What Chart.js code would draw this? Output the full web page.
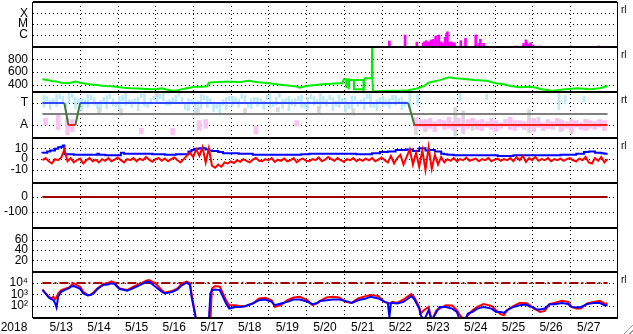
<!DOCTYPE html>
<html>
<head>
<meta charset="utf-8">
<script src="https://cdn.jsdelivr.net/npm/chart.js@4.4.1/dist/chart.umd.min.js"></script>
<style>
  html, body { margin: 0; padding: 0; background: #fff; }
  #wrap { position: relative; width: 633px; height: 334px; }
  #grip {
    position: absolute; right: 0; bottom: 0; width: 12px; height: 12px;
    background: repeating-linear-gradient(135deg, rgba(255,255,255,0) 0 2px, #9a9a9a 2px 3px, rgba(255,255,255,0) 3px 4px);
    clip-path: polygon(100% 0, 100% 100%, 0 100%);
  }
</style>
</head>
<body>
<div id="wrap"><canvas id="myChart" width="633" height="334"></canvas><div id="grip"></div></div>
<script>
// time axis: hours after 2018-05-13 00:00
var year = '2018';
var dayLabels = ['5/13', '5/14', '5/15', '5/16', '5/17', '5/18', '5/19', '5/20', '5/21', '5/22', '5/23', '5/24', '5/25', '5/26', '5/27'];

// panel 1 - x-ray class (X / M / C)
var xrayTicks = [1e-4, 1e-5, 1e-6];
var xrayTickLabels = ['X', 'M', 'C'];
var xrayHours = [221, 231, 238.5, 242.5, 243.5, 244.5, 245.5, 246.5, 247.5, 249, 250.5, 251, 252.5, 254, 255, 256.5, 257.5, 258, 259, 260.5, 261.5, 262.5, 266.5, 269.5, 276, 278, 279, 281, 302, 306.5, 308, 308.5, 310, 311, 312.5, 316.5, 336.5, 354.5];
var xrayFlux = [2.8e-7, 1e-6, 2.25e-7, 1.95e-7, 2.4e-7, 3e-7, 1.95e-7, 2.4e-7, 3.5e-7, 4e-7, 8.1e-7, 2.4e-7, 1e-6, 2.4e-7, 1.7e-7, 6.1e-7, 1.45e-6, 2e-6, 1.95e-7, 2.4e-7, 1.7e-7, 1.95e-7, 3e-7, 5e-7, 1e-6, 1.7e-7, 4e-7, 1.7e-7, 9.8e-8, 1.7e-7, 3.5e-7, 1.95e-7, 1.5e-7, 1.95e-7, 1.2e-7, 9.8e-8, 9.8e-8, 9.8e-8];

// panel 2 - solar wind speed
var speedTicks = [800, 600, 400];
var speedHours = [0, 3, 6, 9, 12, 17, 21, 24, 28, 31, 35, 39, 44, 47, 52, 56, 61, 66, 70, 73, 76, 79, 83, 86, 89, 92, 97, 102, 105, 106, 109, 113, 117, 121, 124, 127, 130, 132, 135, 138, 143, 148, 153, 158, 162, 164, 167, 169, 174, 179, 184, 189, 191, 192, 193.5, 193.6, 193.8, 195, 195.2, 195.4, 198.5, 198.5, 204.5, 204.5, 198.5, 204.5, 204.6, 205.2, 209, 209.8, 210, 210.2, 210.6, 217, 223, 229, 233, 238, 243, 246, 253, 259, 263, 269, 275, 283, 289, 294, 298, 304, 312, 318, 325, 333, 341, 349, 355, 360];
var speedValues = [488, 475, 461, 455, 435, 425, 452, 435, 420, 405, 399, 383, 378, 372, 355, 348, 345, 337, 332, 335, 348, 330, 310, 318, 335, 348, 372, 372, 380, 435, 440, 446, 450, 448, 446, 446, 460, 466, 450, 441, 430, 414, 400, 388, 375, 357, 375, 388, 398, 410, 418, 425, 425, 488, 488, 348, 488, 488, 332, 477, 477, 332, 332, 477, 477, 477, 295, 503, 503, 503, 975, 503, 298, 305, 310, 312, 318, 340, 380, 435, 475, 519, 503, 492, 477, 466, 425, 410, 383, 363, 372, 332, 310, 332, 348, 332, 348, 383];

// panel 3 - sector (T = toward, A = away) and hourly angle scatter
var sectorTicks = [1, -1];
var sectorTickLabels = ['T', 'A'];
var sectorHours = [0, 14, 16.5, 21, 24, 233, 237, 360];
var sectorValues = [1, 1, -1, -1, 1, 1, -1, -1];
var cyanHours = [1, 5, 9, 13, 17, 21, 25, 29, 33, 37, 41, 45, 49, 53, 57, 61, 65, 69, 73, 77, 81, 85, 89, 93, 97, 101, 105, 109, 113, 117, 121, 125, 129, 133, 137, 141, 145, 149, 153, 157, 161, 165, 169, 173, 177, 181, 185, 189, 193, 197, 201, 205, 209, 213, 217, 221, 225, 229, 234, 239, 266, 283, 329, 333, 345];
var cyanLow = [0.6, 0.4, 0.7, 0.9, 1.0, 0.5, 0.3, 0.6, 0.8, 0.2, 0.5, 0.7, 0.4, 0.8, 0.6, 0.3, 0.7, 0.9, 1.0, 1.2, 0.8, 1.1, 0.9, 0.3, 0.1, 0.5, 0.6, 0.2, 0.0, 0.4, 0.7, 0.6, 0.9, 0.5, 0.7, 0.4, 0.6, 0.8, 0.5, 0.3, 0.7, 0.6, 0.4, 0.8, 0.5, 0.7, 0.3, 0.6, 0.2, 0.5, 0.7, 0.4, 0.6, 0.3, 0.7, 0.5, 0.8, 0.4, 0.5, 0.8, 1.2, 1.3, 0.4, 0.9, 1.1];
var cyanHigh = [1.7, 1.3, 1.8, 1.6, 1.9, 1.5, 1.4, 1.8, 1.5, 1.2, 1.7, 1.4, 1.6, 1.9, 1.3, 1.5, 1.8, 1.4, 1.8, 1.9, 1.3, 1.7, 1.5, 1.4, 1.2, 1.8, 1.6, 1.1, 1.0, 1.5, 1.6, 1.3, 1.7, 1.4, 1.5, 1.2, 1.8, 1.5, 1.3, 1.6, 1.4, 1.7, 1.5, 1.6, 1.9, 1.3, 1.5, 1.7, 1.4, 1.6, 1.2, 1.5, 1.8, 1.3, 1.6, 1.4, 1.7, 1.5, 1.9, 1.8, 1.9, 1.8, 1.9, 1.7, 1.6];
var cyan2Hours = [3, 7, 11, 15, 19, 23, 27, 31, 35, 39, 43, 47, 51, 55, 59, 63, 67, 71, 75, 79, 83, 87, 91, 95, 99, 103, 107, 111, 115, 119, 123, 127, 131, 135, 139, 143, 147, 151, 155, 159, 163, 167, 171, 175, 179, 183, 187, 191, 195, 199, 203, 207, 211, 215, 219, 223, 227, 231];
var cyan2Low = [1.2, 0.9, 1.4, 0.6, 1.5, 1.0, 0.8, 1.3, 0.5, 1.1, 1.4, 0.7, 1.2, 1.0, 0.9, 1.5, 0.6, 1.3, 1.4, 0.8, 1.1, 1.6, 0.4, 0.9, 0.7, 1.3, 1.0, 0.5, 0.8, 1.2, 1.0, 1.4, 0.6, 1.1, 0.9, 1.3, 0.7, 1.5, 1.0, 0.8, 1.2, 0.6, 1.4, 0.9, 1.1, 1.3, 0.7, 1.0, 0.5, 1.2, 0.9, 1.4, 0.6, 1.1, 0.8, 1.3, 1.0, 0.7];
var cyan2High = [1.6, 1.4, 1.8, 1.0, 1.8, 1.4, 1.3, 1.7, 1.0, 1.5, 1.8, 1.1, 1.7, 1.3, 1.4, 1.9, 1.0, 1.6, 1.8, 1.2, 1.5, 1.9, 0.9, 1.3, 1.2, 1.7, 1.4, 0.9, 1.3, 1.6, 1.5, 1.8, 1.0, 1.5, 1.4, 1.7, 1.1, 1.9, 1.4, 1.3, 1.6, 1.0, 1.8, 1.3, 1.6, 1.7, 1.2, 1.4, 1.0, 1.6, 1.3, 1.8, 1.0, 1.5, 1.3, 1.7, 1.4, 1.2];
var grayHours = [36, 50, 73, 99, 129, 150, 176, 198, 238, 244, 263, 268, 274, 310, 316, 330, 337, 347];
var grayLow = [0.1, -0.1, 1.6, -0.1, 0.0, 0.2, 0.0, -0.1, -1.9, -1.6, -2.0, -1.8, -1.5, -1.7, -1.2, -1.6, -1.8, -1.4];
var grayHigh = [0.6, 0.5, 1.9, 0.6, 0.5, 0.6, 0.7, 0.5, -0.7, -0.5, 0.6, 0.3, -0.4, 0.4, -0.3, -0.5, -0.6, -0.5];
var pinkHours = [2, 10, 16, 19, 63, 83, 100, 104, 136, 162, 238, 241, 244, 247, 250, 253, 256, 259, 262, 265, 268, 271, 274, 277, 280, 283, 286, 289, 292, 295, 298, 301, 304, 307, 310, 313, 316, 319, 322, 325, 328, 331, 334, 337, 340, 343, 346, 349, 352, 355, 358];
var pinkLow = [-1.0, -1.4, -1.9, -1.6, -1.8, -1.9, -1.5, -1.3, -1.8, -1.1, -1.4, -1.2, -1.5, -1.3, -1.6, -1.1, -1.4, -1.3, -1.5, -1.2, -1.6, -1.3, -1.1, -1.4, -1.5, -1.2, -1.4, -1.6, -1.3, -1.1, -1.4, -1.5, -1.2, -1.4, -1.3, -1.6, -1.2, -1.5, -1.3, -1.4, -1.1, -1.5, -1.3, -1.6, -1.2, -1.4, -1.5, -1.3, -1.4, -1.2, -1.5];
var pinkHigh = [-0.4, -0.1, -0.4, -0.5, -1.3, -1.3, -0.6, -0.5, -1.1, -0.6, -0.3, -0.5, -0.6, -0.4, -0.7, -0.5, -0.6, -0.3, -0.7, -0.4, -0.8, -0.5, -0.4, -0.6, -0.5, -0.7, -0.4, -0.6, -0.8, -0.5, -0.3, -0.6, -0.6, -0.7, -0.5, -0.4, -0.6, -0.8, -0.5, -0.7, -0.4, -0.6, -0.7, -0.5, -0.6, -0.8, -0.5, -0.6, -0.7, -0.5, -0.6];

// panel 4 - IMF Bt (blue) and Bz (red), nT
var imfTicks = [10, 0, -10];
var btHours = [0, 3, 5, 8, 10, 12, 13, 14, 14.5, 20, 27, 35, 36, 40, 45, 50, 52, 54, 60, 70, 78, 85, 93, 95, 97, 100, 104, 106, 108, 112, 115, 117, 125, 134, 136, 150, 165, 170, 175, 190, 200, 205, 210, 215, 220, 225, 228, 232, 236, 240, 244, 246, 250, 254, 256, 258, 262, 270, 280, 290, 300, 310, 320, 330, 340, 345, 348, 352, 356, 358, 360];
var btValues = [5.5, 6, 7, 8, 9.5, 11, 11.5, 12.5, 4.8, 4.6, 4, 4, 5, 4, 3.5, 3.5, 6, 5, 5, 5, 4.5, 4, 4.5, 7, 8.5, 9.5, 10, 9, 8, 7.5, 6.5, 5.5, 5.5, 5, 4, 4, 4, 4.5, 5, 5, 5, 4.5, 4.5, 5.5, 6.5, 7, 8.5, 8.5, 9, 7.5, 10, 8, 8.5, 7, 5, 4.5, 4, 3.5, 3.5, 3.5, 3, 3.5, 3.5, 3.5, 4, 5, 6.5, 7, 6, 5.5, 5];
// Bz every 2 hours
var bzValues = [-1, 1, -2, -4, 0, -1, 1.5, 9, -2, 1, -3, -1, 0.5, -4, -1, 1, -2, -0.5, -3, 0,
  -1.5, 1, -2, -0.5, 1.5, -1, -3, 0, -1, 1, -2, 0.5, -1, 2, -0.5, -2.5, 0, 1, -1.5, 0.5,
  -2, 0, 1.5, -1, -3, 0, 3, 6, 2, 9, 3, 11, -3, 10, -6, -8, -5, -7, -3, -4,
  -2, -3.5, -1, -2.5, 0, -1.5, -3, -0.5, 1, -1.5, -2, 0, -1, 1, -2.5, -0.5, -1.5, 0.5, -2, -1,
  1, -3, -0.5, 0.5, -1.5, -2, 0, -1, 1.5, -2, -0.5, 2, 0, -1.5, 1, -1, -2.5, 0, -1, 1,
  -2, 0, -1.5, 0.5, -1, 1, -2, -0.5, 1.5, -1, -3, 3, -4, 1, 4, -5, 2, 9, -5, 6,
  -7, 8, -10, 11, -9, 4, -5, 2, -3, 0, -1.5, 1, -2, 0, -1, 1.5, -1.5, -0.5, 0.5, -2,
  0, -1, 1, -2, -0.5, 0.5, -1.5, 0, -1, 1, -2, 2, -1, 3, -2.5, 1, -1, 2, -1.5, 0,
  -1, 1, -2, 0, -1, 0.5, -1.5, 0, 1, -1, -2, 0.5, -1, 2, -3, -4, 1, -1.5, 2, -3, 0];
var bzHours = bzValues.map(function (v, i) { return i * 2; });

// panel 5 - Dst
var dstTicks = [0, -100];
var dstHours = [0, 360];
var dstValues = [0, 0];

// panel 6 - (no data in this period)
var kpTicks = [60, 40, 20];

// panel 7 - electron flux, two satellites, with 10^4 alert level
var fluxTicks = [1e4, 1e3, 1e2];
var fluxTickLabels = ['10\u2074', '10\u00b3', '10\u00b2'];
var fluxHours = [0, 2, 4, 6, 7, 8, 9, 10, 12, 15, 17, 18, 20, 22, 24, 26, 29, 31, 33, 35, 37, 39, 41, 44, 46, 47, 49, 54, 58, 62, 66, 68, 72, 76, 78, 83, 86, 89, 92, 94, 95, 98, 100, 103, 106, 107, 108, 110, 113, 115, 117, 119, 123, 126, 129, 134, 138, 142, 146, 148, 152, 156, 160, 164, 169, 172, 175, 177, 181, 185, 189, 193, 197, 201, 206, 209, 214, 218, 220, 221, 222, 223, 226, 230, 233, 235, 237, 240, 241, 243, 246, 248, 251, 253, 257, 261, 264, 266, 269, 271, 274, 277, 281, 286, 289, 292, 294, 296, 300, 304, 308, 310, 313, 315, 317, 320, 323, 326, 331, 335, 337, 340, 343, 347, 351, 355, 358, 360];
var fluxRed = [2750, 1220, 620, 440, 620, 360, 540, 1220, 2400, 3370, 4130, 5810, 9330, 6650, 4730, 1710, 870, 990, 1710, 3370, 5420, 8150, 9330, 14000, 10700, 6650, 3370, 2400, 4730, 8150, 16100, 18400, 9330, 2400, 1390, 2090, 3370, 9330, 13100, 9330, 1220, 5, 5, 5, 5, 5, 3370, 5420, 4730, 1220, 310, 113, 113, 92, 92, 160, 440, 500, 310, 80, 113, 310, 540, 620, 310, 113, 160, 270, 540, 620, 540, 220, 180, 440, 710, 870, 710, 220, 180, 160, 180, 220, 180, 360, 710, 1060, 540, 80, 21, 41, 80, 5, 41, 57, 113, 105, 41, 15, 5, 15, 41, 80, 140, 99, 41, 18, 15, 41, 92, 180, 180, 130, 57, 41, 29, 36, 140, 180, 270, 220, 80, 57, 57, 160, 220, 270, 160, 160];
var fluxBlue = [2400, 1220, 540, 360, 310, 180, 70, 620, 1710, 2750, 3610, 4730, 5420, 4130, 3150, 1220, 810, 930, 1390, 2940, 4730, 7110, 7110, 9330, 8150, 5810, 3150, 2090, 3610, 6650, 12200, 13100, 4730, 1710, 1220, 1710, 2750, 6650, 10700, 6650, 620, 5, 5, 5, 5, 1220, 2400, 2750, 2400, 620, 160, 57, 80, 80, 92, 160, 310, 360, 220, 113, 160, 220, 360, 360, 220, 140, 180, 270, 310, 360, 360, 270, 180, 310, 440, 620, 440, 220, 180, 10.5, 180, 180, 160, 220, 440, 710, 360, 57, 15, 5, 41, 5, 29, 80, 80, 57, 29, 5, 5, 21, 29, 57, 80, 57, 29, 29, 24, 41, 80, 113, 130, 92, 70, 47, 47, 57, 140, 140, 180, 140, 80, 70, 80, 140, 180, 180, 113, 113];
var fluxAlertHours = [0, 360];
var fluxAlert = [1e4, 1e4];

var panelIds = ['y1', 'y2', 'y3', 'y4', 'y5', 'y6', 'y7'];
var panelMarks = ['rl', 'rl', 'rt', 'rl', '', '', 'rl'];

function pts(xs, ys) {
  return xs.map(function (x, i) { return { x: x, y: ys[i] }; });
}
function ranges(xs, lo, hi) {
  return xs.map(function (x, i) { return { x: x, y: [lo[i], hi[i]] }; });
}

Chart.defaults.font.family = '"Liberation Sans", Arial, sans-serif';
Chart.defaults.font.size = 12;
Chart.defaults.color = '#000';

function panel(weight, stackWeight, type, min, max, tickVals, tickText) {
  return {
    type: type,
    position: 'left',
    stack: 'panels',
    stackWeight: stackWeight,
    weight: weight,
    min: min,
    max: max,
    border: { display: false },
    grid: { display: false, drawTicks: false },
    ticks: {
      autoSkip: false,
      padding: 5,
      callback: function (v) {
        var i = tickVals.indexOf(v);
        if (i < 0) return '';
        return tickText ? tickText[i] : String(v);
      }
    },
    afterBuildTicks: function (s) {
      s.ticks = tickVals.map(function (v) { return { value: v }; });
    },
    afterFit: function (s) {
      s.width = 33;
      s.paddingTop = 0;
      s.paddingBottom = 0;
    }
  };
}

// dotted grid: one line per tick of every panel, and one per day boundary
var dotGridPlugin = {
  id: 'dotGrid',
  beforeDatasetsDraw: function (chart) {
    var c = chart.ctx, a = chart.chartArea;
    c.save();
    c.strokeStyle = '#000';
    c.lineWidth = 1;
    c.setLineDash([1, 3]);
    c.beginPath();
    panelIds.forEach(function (id) {
      var s = chart.scales[id];
      s.ticks.forEach(function (t) {
        var y = Math.round(s.getPixelForValue(t.value)) + 0.5;
        c.moveTo(a.left, y);
        c.lineTo(a.right, y);
      });
    });
    var sx = chart.scales.x;
    sx.ticks.forEach(function (t) {
      if (t.value % 24 === 0 && t.value > 0 && t.value < 360) {
        var x = Math.round(sx.getPixelForValue(t.value)) + 0.5;
        c.moveTo(x, a.top);
        c.lineTo(x, a.bottom);
      }
    });
    c.stroke();
    c.restore();
  }
};

var framePlugin = {
  id: 'frames',
  afterDatasetsDraw: function (chart) {
    var c = chart.ctx, a = chart.chartArea;
    c.save();
    c.strokeStyle = '#000';
    c.lineWidth = 2;
    c.beginPath();
    panelIds.forEach(function (id) {
      var t = Math.round(chart.scales[id].top);
      c.moveTo(a.left, t);
      c.lineTo(a.right, t);
    });
    c.moveTo(a.left, Math.round(a.bottom));
    c.lineTo(a.right, Math.round(a.bottom));
    c.stroke();
    c.lineWidth = 1;
    c.beginPath();
    c.moveTo(Math.round(a.left) - 0.5, a.top);
    c.lineTo(Math.round(a.left) - 0.5, a.bottom);
    c.moveTo(Math.round(a.right) + 0.5, a.top);
    c.lineTo(Math.round(a.right) + 0.5, a.bottom);
    c.stroke();
    c.fillStyle = '#000';
    c.font = '10px "Liberation Sans", Arial, sans-serif';
    c.textBaseline = 'middle';
    c.textAlign = 'left';
    panelIds.forEach(function (id, i) {
      if (panelMarks[i]) c.fillText(panelMarks[i], a.right + 4, chart.scales[id].top + 8);
    });
    c.font = '12px "Liberation Sans", Arial, sans-serif';
    c.textAlign = 'center';
    c.fillText(year, 14, chart.scales.x.top + 2 + 7.2);
    c.restore();
  }
};

var ctx = document.getElementById('myChart').getContext('2d');
var chart = new Chart(ctx, {
  type: 'line',
  data: {
    datasets: [
      // panel 1
      { type: 'bar', data: ranges(xrayHours, xrayHours.map(function () { return 7e-8; }), xrayFlux), yAxisID: 'y1',
        backgroundColor: '#ff00ff', barThickness: 2, grouped: false, order: 3 },
      // panel 2
      { data: pts(speedHours, speedValues), yAxisID: 'y2', borderColor: '#00ee00', borderWidth: 2, order: 1 },
      // panel 3
      { type: 'bar', data: ranges(cyanHours, cyanLow, cyanHigh), yAxisID: 'y3',
        backgroundColor: '#bdeaf8', barThickness: 2, grouped: false, order: 7 },
      { type: 'bar', data: ranges(cyan2Hours, cyan2Low, cyan2High), yAxisID: 'y3',
        backgroundColor: '#bdeaf8', barThickness: 2, grouped: false, order: 7 },
      { type: 'bar', data: ranges(grayHours, grayLow, grayHigh), yAxisID: 'y3',
        backgroundColor: '#d8d8d8', barThickness: 3, grouped: false, order: 5 },
      { type: 'bar', data: ranges(pinkHours, pinkLow, pinkHigh), yAxisID: 'y3',
        backgroundColor: '#f9c4f2', barThickness: 4, grouped: false, order: 4 },
      { data: pts([0, 360], [0, 0]), yAxisID: 'y3', borderColor: '#808080', borderWidth: 2, order: 2 },
      { data: pts(sectorHours, sectorValues), yAxisID: 'y3', borderWidth: 2, order: 1,
        segment: {
          borderColor: function (c) {
            if (c.p0.parsed.y !== c.p1.parsed.y) return '#3c7a3c';
            return c.p0.parsed.y > 0 ? '#3048ff' : '#f02020';
          }
        } },
      // panel 4
      { data: pts(btHours, btValues), yAxisID: 'y4', borderColor: '#0000ff', borderWidth: 2, stepped: 'after', order: 2 },
      { data: pts(bzHours, bzValues), yAxisID: 'y4', borderColor: '#ff0000', borderWidth: 2, order: 1 },
      // panel 5
      { data: pts(dstHours, dstValues), yAxisID: 'y5', borderColor: '#a00000', borderWidth: 2, order: 1 },
      // panel 7
      { data: pts(fluxAlertHours, fluxAlert), yAxisID: 'y7', borderColor: '#a00000', borderWidth: 2,
        borderDash: [9, 3, 2, 3], order: 3 },
      { data: pts(fluxHours, fluxRed), yAxisID: 'y7', borderColor: '#ff0000', borderWidth: 2, order: 2 },
      { data: pts(fluxHours, fluxBlue), yAxisID: 'y7', borderColor: '#0000ff', borderWidth: 2, order: 1 }
    ]
  },
  options: {
    responsive: false,
    animation: false,
    layout: { padding: { top: 2, right: 16, left: 0, bottom: 0 } },
    elements: {
      point: { radius: 0 },
      line: { tension: 0, borderJoinStyle: 'miter' },
      bar: { borderWidth: 0 }
    },
    datasets: { line: { clip: 0 }, bar: { clip: 0 } },
    plugins: { legend: { display: false }, tooltip: { enabled: false } },
    scales: {
      x: {
        type: 'linear',
        position: 'bottom',
        min: 0,
        max: 360,
        border: { display: true, color: '#000', width: 1 },
        grid: { display: false, drawTicks: false },
        ticks: {
          autoSkip: false,
          maxRotation: 0,
          padding: 2,
          callback: function (v) {
            return v % 24 === 12 ? dayLabels[(v - 12) / 24] : '';
          }
        },
        afterBuildTicks: function (s) {
          var t = [];
          for (var h = 0; h <= 360; h += 12) t.push({ value: h });
          s.ticks = t;
        },
        afterFit: function (s) {
          s.height = 16;
          s.paddingLeft = 0;
          s.paddingRight = 0;
        }
      },
      y1: panel(7, 45, 'logarithmic', 7.83e-8, 1.096e-3, xrayTicks, xrayTickLabels),
      y2: panel(6, 45, 'linear', 290, 990, speedTicks),
      y3: panel(5, 46, 'linear', -2.18, 2, sectorTicks, sectorTickLabels),
      y4: panel(4, 45, 'linear', -22, 19.5, imfTicks),
      y5: panel(3, 45, 'linear', -207, 93, dstTicks),
      y6: panel(2, 44, 'linear', -2, 82, kpTicks),
      y7: panel(1, 46, 'logarithmic', 8.5, 93000, fluxTicks, fluxTickLabels)
    }
  },
  plugins: [dotGridPlugin, framePlugin]
});
</script>
</body>
</html>
